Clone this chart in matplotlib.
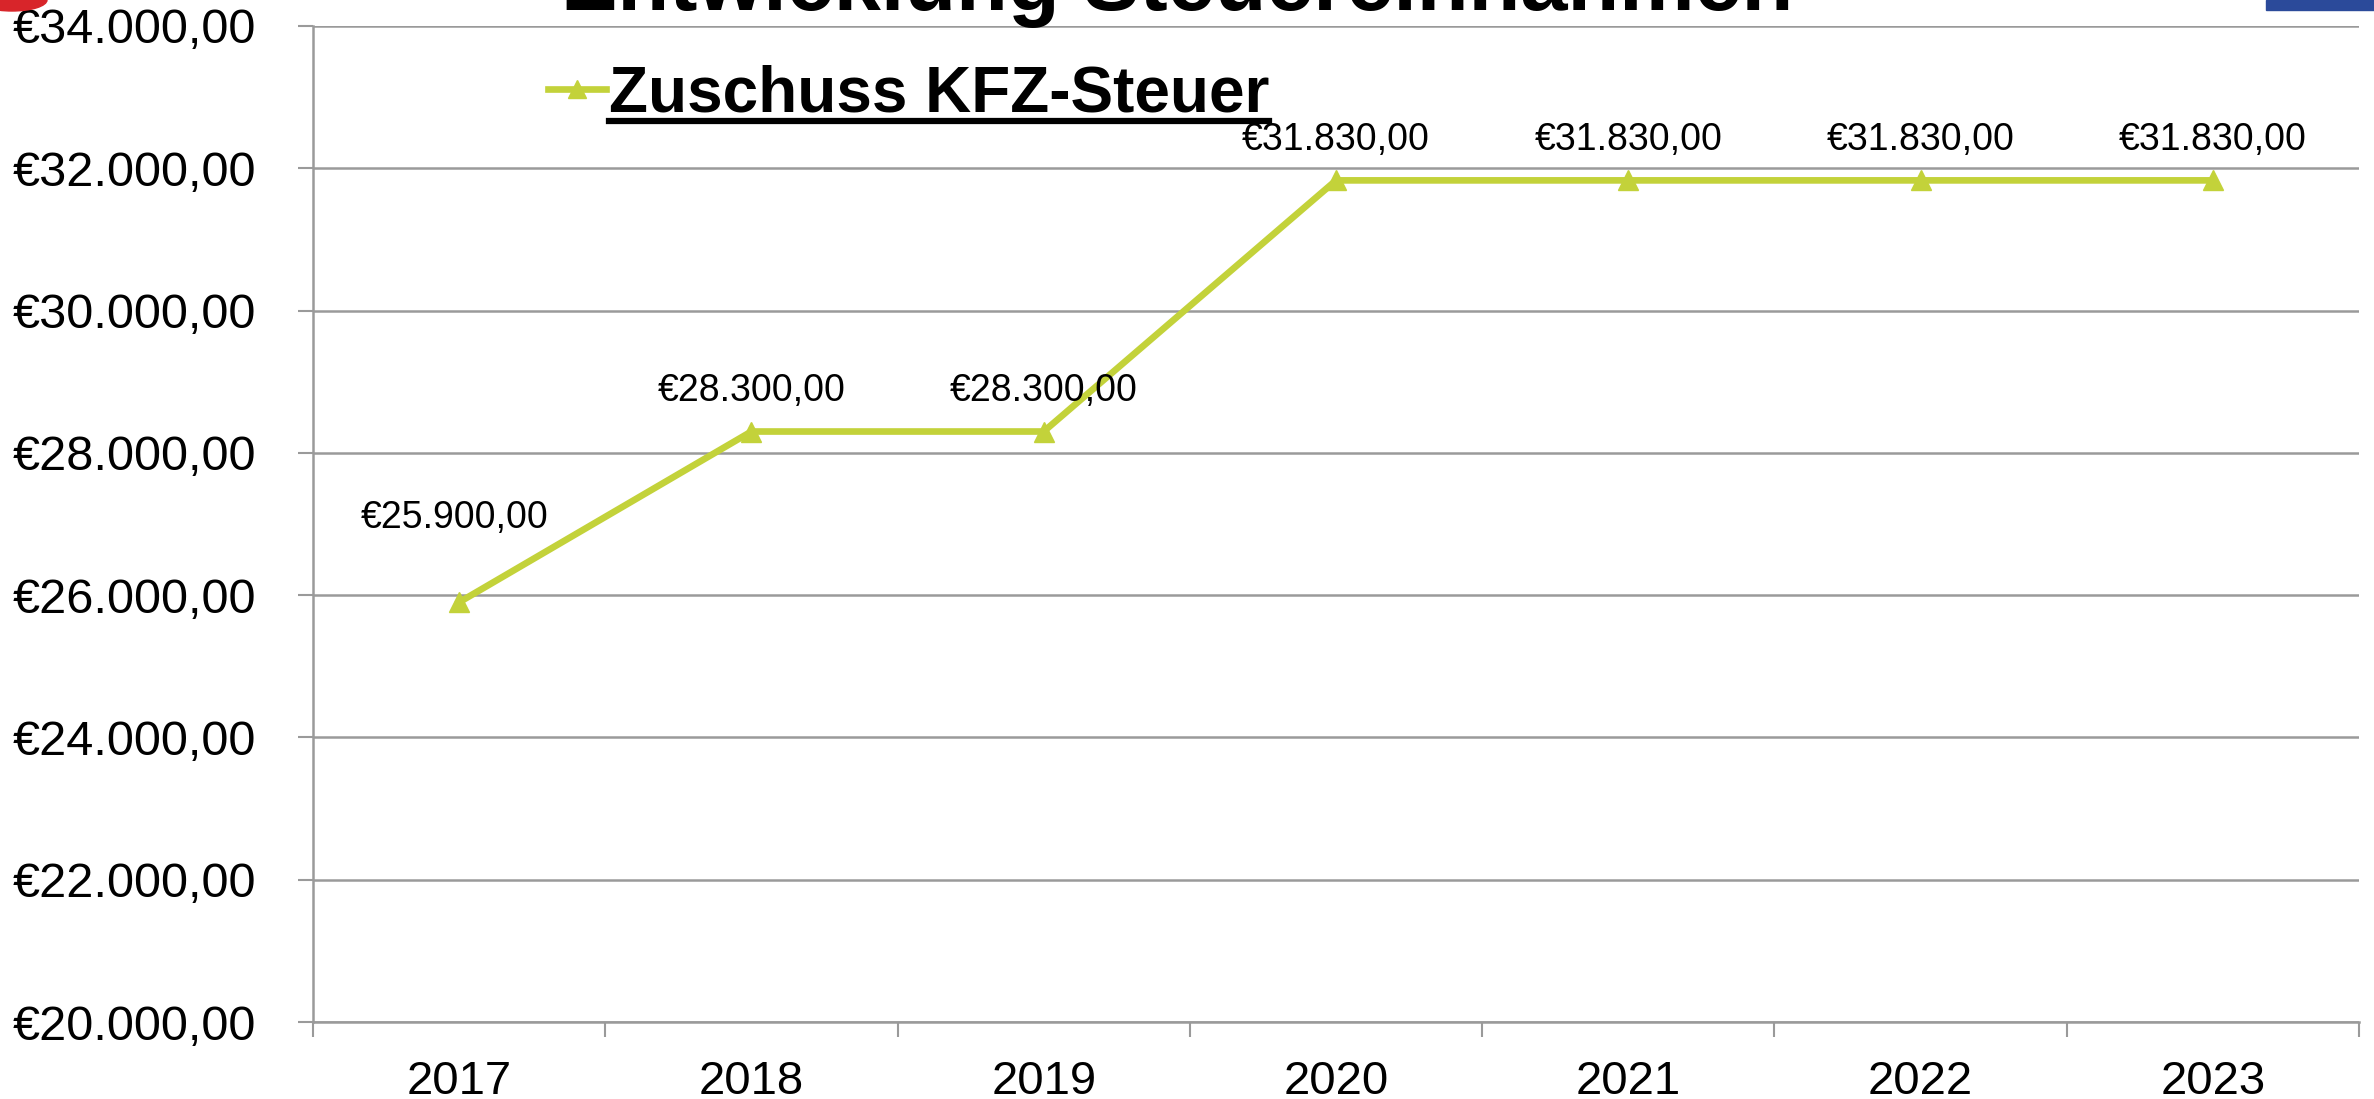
import matplotlib
matplotlib.use("Agg")
from matplotlib import pyplot as plt
from matplotlib.lines import Line2D
from matplotlib.patches import Ellipse, Rectangle

plt.rcParams['font.family'] = ['Liberation Sans', 'DejaVu Sans']

years = ["2017", "2018", "2019", "2020", "2021", "2022", "2023"]
values = [25900, 28300, 28300, 31830, 31830, 31830, 31830]
series_name = "Zuschuss KFZ-Steuer"
title = "Entwicklung Steuereinnahmen"

line_color = "#c3d23a"
grid_color = "#9a9a9a"


def euro(v):
    s = f"{v:,.2f}"
    s = s.replace(",", "X").replace(".", ",").replace("X", ".")
    return "€" + s


W, H = 2374, 1099
fig = plt.figure(figsize=(W / 100, H / 100), dpi=100)
ax = fig.add_axes([313 / W, 1 - 1022 / H, 2046 / W, (1022 - 26) / H])

x = list(range(len(years)))
ax.plot(x, values, color=line_color, lw=4.8, marker="^", markersize=15,
        solid_joinstyle="miter", label=series_name, zorder=3)

for i, v in enumerate(values):
    dy = 48 if i == 0 else 16
    ax.annotate(euro(v), (i, v), xytext=(-3 if i == 0 else 0, dy),
                textcoords="offset points", ha="center", va="bottom",
                fontsize=27)

ax.set_xlim(-0.5, len(years) - 0.5)
ax.set_ylim(20000, 34000)
ax.set_yticks(range(20000, 34001, 2000))
ax.set_yticklabels([euro(v) for v in range(20000, 34001, 2000)])
ax.set_xticks(x)
ax.set_xticklabels(years)
ax.set_xticks([i + 0.5 for i in range(-1, len(years))], minor=True)
ax.tick_params(axis="x", which="major", length=0, pad=27, labelsize=34)
ax.tick_params(axis="x", which="minor", length=11, width=1.5,
               color=grid_color, direction="out")
ax.tick_params(axis="y", length=11, width=1.5, color=grid_color,
               pad=30, labelsize=35)

ax.grid(axis="y", color=grid_color, lw=1.8)
ax.set_axisbelow(True)
for side in ("top", "right"):
    ax.spines[side].set_visible(False)
for side in ("left", "bottom"):
    ax.spines[side].set_color(grid_color)
    ax.spines[side].set_linewidth(1.8)

leg = ax.legend(loc="upper left", bbox_to_anchor=(548 / W, 1 - 64 / H),
                bbox_transform=fig.transFigure, frameon=False,
                prop={"weight": "bold", "size": 46}, handlelength=0.9,
                handletextpad=0.05, borderpad=0, borderaxespad=0,
                markerscale=0.85)

# legend text is underlined in the original
fig.canvas.draw()
bb = leg.get_texts()[0].get_window_extent()
uy = bb.y0 + 3
fig.add_artist(Line2D([bb.x0 / W, bb.x1 / W], [uy / H, uy / H],
                      transform=fig.transFigure, color="black", lw=4.5))

fig.text(1177 / W, 1 - 10 / H, title, ha="center", va="baseline",
         fontsize=61, fontweight="bold")

fig.add_artist(Ellipse((12 / W, 1 - 0 / H), 70 / W, 22 / H,
                       transform=fig.transFigure, color="#d8252a"))
fig.add_artist(Rectangle((2266 / W, 1 - 10 / H), 108 / W, 10 / H,
                         transform=fig.transFigure, color="#2b4a9a"))

fig.savefig("out.png", dpi=100)
